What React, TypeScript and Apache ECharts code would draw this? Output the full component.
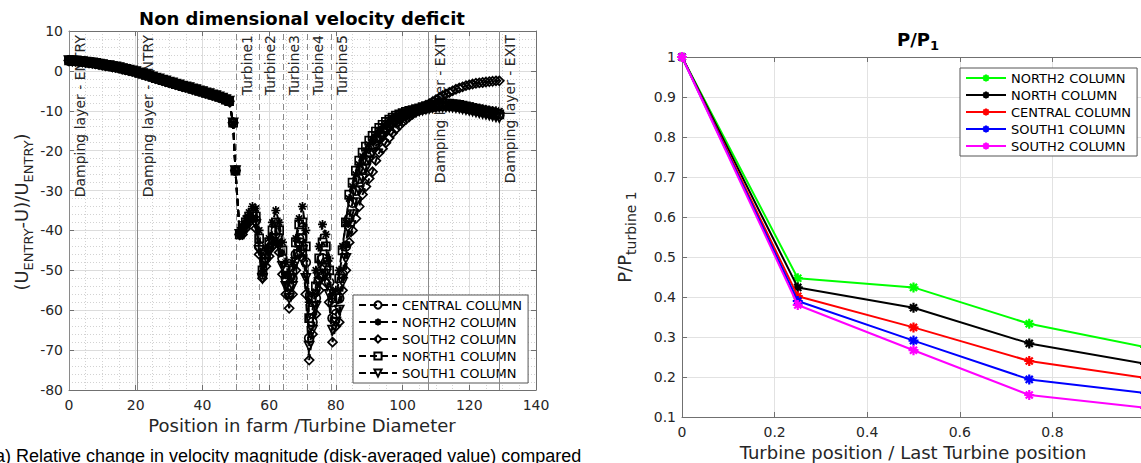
import React, { useEffect, useRef } from "react";
import * as echarts from "echarts";

// ---------- Left chart data (velocity deficit) ----------
const entryX = [0, 1, 2, 3, 4, 5, 6, 7, 8, 9, 10, 11, 12, 13, 14, 15, 16, 17, 18, 19, 20, 21, 22, 23, 24, 25, 26, 27, 28, 29, 30, 31, 32, 33, 34, 35, 36, 37, 38, 39, 40, 41, 42, 43, 44, 45, 46, 47, 48, 49.2, 49.9, 51.2];
const entryY = [2.6, 2.5, 2.5, 2.4, 2.3, 2.2, 2.1, 2.0, 1.9, 1.7, 1.6, 1.4, 1.3, 1.1, 1.0, 0.8, 0.6, 0.4, 0.2, 0.0, -0.2, -0.5, -0.7, -1.0, -1.2, -1.5, -1.8, -2.0, -2.3, -2.5, -2.8, -3.0, -3.3, -3.5, -3.8, -4.0, -4.2, -4.5, -4.7, -5.0, -5.2, -5.5, -5.7, -6.0, -6.2, -6.5, -6.8, -7.2, -7.6, -13, -25, -41];

const wakeX = [52, 53, 54, 55, 56, 57, 58, 59, 60, 61, 62, 63, 64, 65, 66, 67, 68, 69, 70, 71, 72, 73, 74, 75, 76, 77, 78, 79, 80, 81, 82, 83, 84, 85, 86, 87, 88, 89, 90, 91, 92, 93, 94, 95, 96, 97, 98, 99, 100, 101, 102, 103, 104, 105, 106, 107, 108, 109, 110, 111, 112, 113, 114, 115, 116, 117, 118, 119, 120, 121, 122, 123, 124, 125, 126, 127, 128, 129];

const centralWake = [-40, -38.5, -37, -36, -37.5, -44, -51, -47, -44.5, -42, -40, -42, -47, -52, -56, -52, -46, -42, -42, -48, -67, -63, -57, -51, -47, -48, -53, -62, -61, -57, -51, -44, -37,
  -33, -30, -27, -24.5, -22.5, -20.5, -19, -17.5, -16.3, -15.2, -14.3, -13.5, -12.8, -12.2, -11.7, -11.3, -10.9, -10.6, -10.3, -10, -9.8, -9.6, -9.4,
  -9.2, -9.0, -8.9, -8.8, -8.7, -8.7, -8.7, -8.8, -8.9, -9.0, -9.2, -9.3, -9.5, -9.7, -9.9, -10.0, -10.2, -10.4, -10.6, -10.8, -10.9, -11.1];
const north2Wake = [-39, -37, -35.5, -34, -34.5, -40, -50, -45, -42, -38, -35, -38, -43, -48, -52, -48, -42, -37, -34, -40, -58, -56, -50, -44, -38.5, -41, -47, -56, -55, -50, -44, -38, -32,
  -29, -26, -23.5, -21.5, -20, -18.5, -17.3, -16, -15, -14, -13.3, -12.6, -12, -11.5, -11.1, -10.8, -10.5, -10.2, -10, -9.7, -9.5, -9.3, -9.1,
  -9.0, -8.8, -8.6, -8.5, -8.4, -8.3, -8.3, -8.3, -8.4, -8.5, -8.6, -8.7, -8.9, -9.0, -9.2, -9.3, -9.5, -9.6, -9.8, -9.9, -10.0, -10.1];
const south2Wake = [-41, -39.5, -38, -37, -39.5, -46, -52, -49, -46.5, -44, -43, -45.5, -51, -56, -59.5, -56, -50, -46, -47, -56, -72.5, -66, -61, -55, -51, -53, -58, -68, -64, -63, -55, -50, -43,
  -40, -37, -34, -31, -29, -27, -25.3, -22.5, -20.5, -19.5, -18, -16.8, -15.6, -14.6, -13.7, -12.9, -12.2, -11.5, -10.9, -10.3, -9.8, -9.2, -8.6,
  -8.2, -7.7, -7.2, -6.7, -6.2, -5.8, -5.4, -5.0, -4.6, -4.3, -4.0, -3.7, -3.5, -3.3, -3.1, -3.0, -2.9, -2.8, -2.7, -2.6, -2.5, -2.5];
const north1Wake = [-39.5, -38, -36.5, -35.5, -36.5, -42, -50, -46, -43, -40, -38, -40, -45, -50, -54, -50, -43, -38.5, -38, -44, -62, -60, -54, -47, -43, -44, -50, -58, -57, -52, -45, -38, -31,
  -28, -25, -22.5, -20.5, -19, -17.5, -16.3, -15.2, -14.3, -13.5, -12.8, -12.2, -11.7, -11.2, -10.9, -10.6, -10.3, -10, -9.8, -9.6, -9.4, -9.1, -8.8,
  -8.7, -8.5, -8.4, -8.3, -8.2, -8.2, -8.2, -8.3, -8.4, -8.5, -8.7, -8.9, -9.1, -9.3, -9.5, -9.7, -9.9, -10.1, -10.3, -10.5, -10.7, -10.9];
const south1Wake = [-40.5, -39, -37.5, -36.5, -38.5, -45, -52, -48, -45.5, -43, -42, -44, -49, -54, -57, -54, -48, -44, -45, -52, -69, -65, -59, -53, -49.5, -51, -56, -65, -63, -60, -53, -47, -40,
  -36, -33, -30, -27, -24.5, -22.5, -20.7, -19, -17.6, -16.4, -15.3, -14.4, -13.6, -12.9, -12.3, -11.8, -11.4, -11, -10.6, -10.3, -10, -9.8, -9.6,
  -9.4, -9.2, -9.1, -9.0, -9.0, -9.0, -9.0, -9.1, -9.2, -9.3, -9.5, -9.7, -9.9, -10.1, -10.3, -10.5, -10.7, -10.9, -11.1, -11.3, -11.5, -11.7];

const leftNames = ["CENTRAL COLUMN", "NORTH2 COLUMN", "SOUTH2 COLUMN", "NORTH1 COLUMN", "SOUTH1 COLUMN"];

const dampingX = [0, 20.5, 107.8, 129];
const dampingLabels = ["Damping layer - ENTRY", "Damping layer - ENTRY", "Damping layer - EXIT", "Damping layer - EXIT"];
const turbineX = [50, 57.1, 64.2, 71.3, 78.5];
const turbineLabels = ["Turbine1", "Turbine2", "Turbine3", "Turbine4", "Turbine5"];

// ---------- Right chart data (power ratio) ----------
const powerX = [0, 0.25, 0.5, 0.75, 1];
const north2Power = [1, 0.447, 0.424, 0.333, 0.275];
const northPower = [1, 0.424, 0.373, 0.284, 0.233];
const centralPower = [1, 0.402, 0.324, 0.24, 0.198];
const south1Power = [1, 0.39, 0.291, 0.194, 0.16];
const south2Power = [1, 0.38, 0.267, 0.155, 0.123];
const rightNames = ["NORTH2 COLUMN", "NORTH COLUMN", "CENTRAL COLUMN", "SOUTH1 COLUMN", "SOUTH2 COLUMN"];
const rightColors = ["#00ff00", "#000000", "#ff0000", "#0000ff", "#ff00ff"];

const FONT = '"DejaVu Sans", sans-serif';
const AX = "#707070";
const TXT = "#262626";
const ASTERISK = "path://M0,-10L0,10M-10,0L10,0M-7.07,-7.07L7.07,7.07M-7.07,7.07L7.07,-7.07";

function boxAxis(gridIndex: number, position: string, min: number, max: number, interval: number) {
  return {
    type: "value", gridIndex, position, min, max, interval,
    axisLine: { show: true, onZero: false, lineStyle: { color: AX, width: 1 } },
    axisTick: { show: true, inside: true, length: 5, lineStyle: { color: AX } },
    axisLabel: { show: false },
    splitLine: { show: false },
  };
}

export default function App() {
  const ref = useRef<HTMLDivElement>(null);
  useEffect(() => {
    if (!ref.current) return;
    const chart = echarts.init(ref.current, undefined, { renderer: "svg" });

    const leftWake = [centralWake, north2Wake, south2Wake, north1Wake, south1Wake];
    const leftSymbols = ["circle", ASTERISK, "diamond", "rect", "triangle"];
    const leftSeries: any[] = leftNames.map((name, k) => ({
      type: "line",
      name,
      xAxisIndex: 0,
      yAxisIndex: 0,
      z: 3 + k,
      data: entryX.map((x, i) => [x, entryY[i]]).concat(wakeX.map((x, i) => [x, leftWake[k][i]])),
      symbol: leftSymbols[k],
      symbolSize: leftSymbols[k] === "rect" ? 8 : 9,
      symbolRotate: leftSymbols[k] === "triangle" ? 180 : 0,
      showSymbol: true,
      showAllSymbol: true,
      lineStyle: { color: "#000", width: 2, type: [7, 4] },
      itemStyle: { color: "rgba(0,0,0,0)", borderColor: "#000", borderWidth: 1.7 },
      emphasis: { disabled: true },
    }));

    const refLines = [
      ...dampingX.map((x, i) => ({
        xAxis: x,
        label: { formatter: dampingLabels[i] },
        lineStyle: { type: "solid", color: "#8a8a8a", width: 1 },
      })),
      ...turbineX.map((x, i) => ({
        xAxis: x,
        label: { formatter: turbineLabels[i] },
        lineStyle: { type: [6, 4], color: "#8a8a8a", width: 1 },
      })),
    ];
    leftSeries.unshift({
      type: "line",
      name: "refs",
      xAxisIndex: 0,
      yAxisIndex: 0,
      z: 2,
      data: [],
      markLine: {
        silent: true,
        symbol: ["none", "none"],
        label: { show: true, position: "insideEndBottom", color: TXT, fontSize: 14, fontFamily: FONT, distance: 4 },
        data: refLines,
      },
    });

    const rightData = [north2Power, northPower, centralPower, south1Power, south2Power];
    const rightSeries = rightNames.map((name, k) => ({
      type: "line",
      name: name + " ",
      xAxisIndex: 2,
      yAxisIndex: 2,
      z: 3 + k,
      data: powerX.map((x, i) => [x, rightData[k][i]]),
      symbol: ASTERISK,
      symbolSize: 10,
      showSymbol: true,
      lineStyle: { color: rightColors[k], width: 2 },
      itemStyle: { color: rightColors[k], borderColor: rightColors[k], borderWidth: 2.2 },
      emphasis: { disabled: true },
    }));

    const option: any = {
      animation: false,
      backgroundColor: "#fff",
      textStyle: { fontFamily: FONT },
      grid: [
        { left: 69, top: 31, width: 467, height: 359, containLabel: false, outerBoundsMode: "none" },
        { left: 682, top: 57, width: 463, height: 360, containLabel: false, outerBoundsMode: "none" },
      ],
      xAxis: [
        {
          type: "value", gridIndex: 0, min: 0, max: 140, interval: 20,
          axisLine: { show: true, onZero: false, lineStyle: { color: AX } },
          axisTick: { show: true, inside: true, length: 5, lineStyle: { color: AX } },
          axisLabel: { color: TXT, fontSize: 14, fontFamily: FONT, margin: 8 },
          splitLine: { show: true, lineStyle: { color: "#dcdcdc", width: 1 } },
          minorTick: { show: false, splitNumber: 4 },
          minorSplitLine: { show: true, lineStyle: { color: "#d2d2d2", type: [1, 2], width: 1 } },
        },
        boxAxis(0, "top", 0, 140, 20),
        {
          type: "value", gridIndex: 1, min: 0, max: 1, interval: 0.2,
          axisLine: { show: true, onZero: false, lineStyle: { color: AX } },
          axisTick: { show: true, inside: true, length: 5, lineStyle: { color: AX } },
          axisLabel: { color: TXT, fontSize: 14, fontFamily: FONT, margin: 8, showMaxLabel: false },
          splitLine: { show: true, lineStyle: { color: "#e2e2e2", width: 1 } },
        },
        boxAxis(1, "top", 0, 1, 0.2),
      ],
      yAxis: [
        {
          type: "value", gridIndex: 0, min: -80, max: 10, interval: 10,
          axisLine: { show: true, onZero: false, lineStyle: { color: AX } },
          axisTick: { show: true, inside: true, length: 5, lineStyle: { color: AX } },
          axisLabel: { color: TXT, fontSize: 14, fontFamily: FONT, margin: 6 },
          splitLine: { show: true, lineStyle: { color: "#dcdcdc", width: 1 } },
          minorTick: { show: false, splitNumber: 5 },
          minorSplitLine: { show: true, lineStyle: { color: "#d2d2d2", type: [1, 2], width: 1 } },
        },
        boxAxis(0, "right", -80, 10, 10),
        {
          type: "value", gridIndex: 1, min: 0.1, max: 1, interval: 0.1,
          axisLine: { show: true, onZero: false, lineStyle: { color: AX } },
          axisTick: { show: true, inside: true, length: 5, lineStyle: { color: AX } },
          axisLabel: { color: TXT, fontSize: 14, fontFamily: FONT, margin: 6 },
          splitLine: { show: true, lineStyle: { color: "#e2e2e2", width: 1 } },
        },
      ],
      legend: [
        {
          data: leftNames,
          orient: "vertical",
          left: 353,
          top: 295,
          itemWidth: 38,
          itemHeight: 9,
          itemGap: 3,
          padding: [3, 6, 3, 5],
          borderColor: "#555",
          borderWidth: 1,
          backgroundColor: "#fff",
          selectedMode: false,
          textStyle: { fontSize: 13, color: "#000", fontFamily: FONT, lineHeight: 14 },
        },
        {
          data: rightNames.map((n) => n + " "),
          formatter: (n: string) => n.trim(),
          orient: "vertical",
          left: 960,
          top: 68,
          itemWidth: 40,
          itemHeight: 9,
          itemGap: 3,
          padding: [3, 6, 3, 5],
          borderColor: "#555",
          borderWidth: 1,
          backgroundColor: "#fff",
          selectedMode: false,
          textStyle: { fontSize: 13, color: "#000", fontFamily: FONT, lineHeight: 14 },
        },
      ],
      graphic: [
        {
          type: "text", x: 302, y: 18, z: 10,
          style: { text: "Non dimensional velocity deficit", fontSize: 18, fontWeight: "bold", fontFamily: FONT, fill: "#000", align: "center", verticalAlign: "middle" },
        },
        {
          type: "text", x: 21, y: 212, rotation: Math.PI / 2, z: 10,
          style: {
            text: "{n|(U}{s|ENTRY}{n|-U)/U}{s|ENTRY}{n|)}",
            align: "center", verticalAlign: "middle", fill: TXT,
            rich: {
              n: { fontSize: 18, lineHeight: 28, fontFamily: FONT, fill: TXT },
              s: { fontSize: 13, lineHeight: 15, verticalAlign: "bottom", fontFamily: FONT, fill: TXT },
            },
          },
        },
        {
          type: "text", x: 302, y: 425, z: 10,
          style: { text: "Position in farm /Turbine Diameter", fontSize: 18, fontFamily: FONT, fill: TXT, align: "center", verticalAlign: "middle" },
        },
        {
          type: "text", x: -5, y: 447, z: 10,
          style: { text: "a) Relative change in velocity magnitude (disk-averaged value) compared", fontSize: 18, fontFamily: '"Liberation Sans", Arial, sans-serif', fill: "#000", align: "left", verticalAlign: "top" },
        },
        {
          type: "text", x: 918, y: 39, z: 10,
          style: {
            text: "{n|P/P}{s|1}", align: "center", verticalAlign: "middle",
            rich: {
              n: { fontSize: 18, fontWeight: "bold", lineHeight: 26, fontFamily: FONT, fill: "#000" },
              s: { fontSize: 13, fontWeight: "bold", lineHeight: 14, verticalAlign: "bottom", fontFamily: FONT, fill: "#000" },
            },
          },
        },
        {
          type: "text", x: 624, y: 237, rotation: Math.PI / 2, z: 10,
          style: {
            text: "{n|P/P}{s|turbine 1}", align: "center", verticalAlign: "middle",
            rich: {
              n: { fontSize: 18, lineHeight: 28, fontFamily: FONT, fill: TXT },
              s: { fontSize: 14, lineHeight: 16, verticalAlign: "bottom", fontFamily: FONT, fill: TXT },
            },
          },
        },
        {
          type: "text", x: 913, y: 452, z: 10,
          style: { text: "Turbine position / Last Turbine position", fontSize: 18, fontFamily: FONT, fill: TXT, align: "center", verticalAlign: "middle" },
        },
      ],
      series: [...leftSeries, ...rightSeries],
    };
    chart.setOption(option);
    return () => chart.dispose();
  }, []);

  return (
    <div style={{ position: "fixed", left: 0, top: 0, width: 1141, height: 463, overflow: "hidden", background: "#fff" }}>
      <div ref={ref} style={{ width: 1160, height: 463 }} />
    </div>
  );
}
